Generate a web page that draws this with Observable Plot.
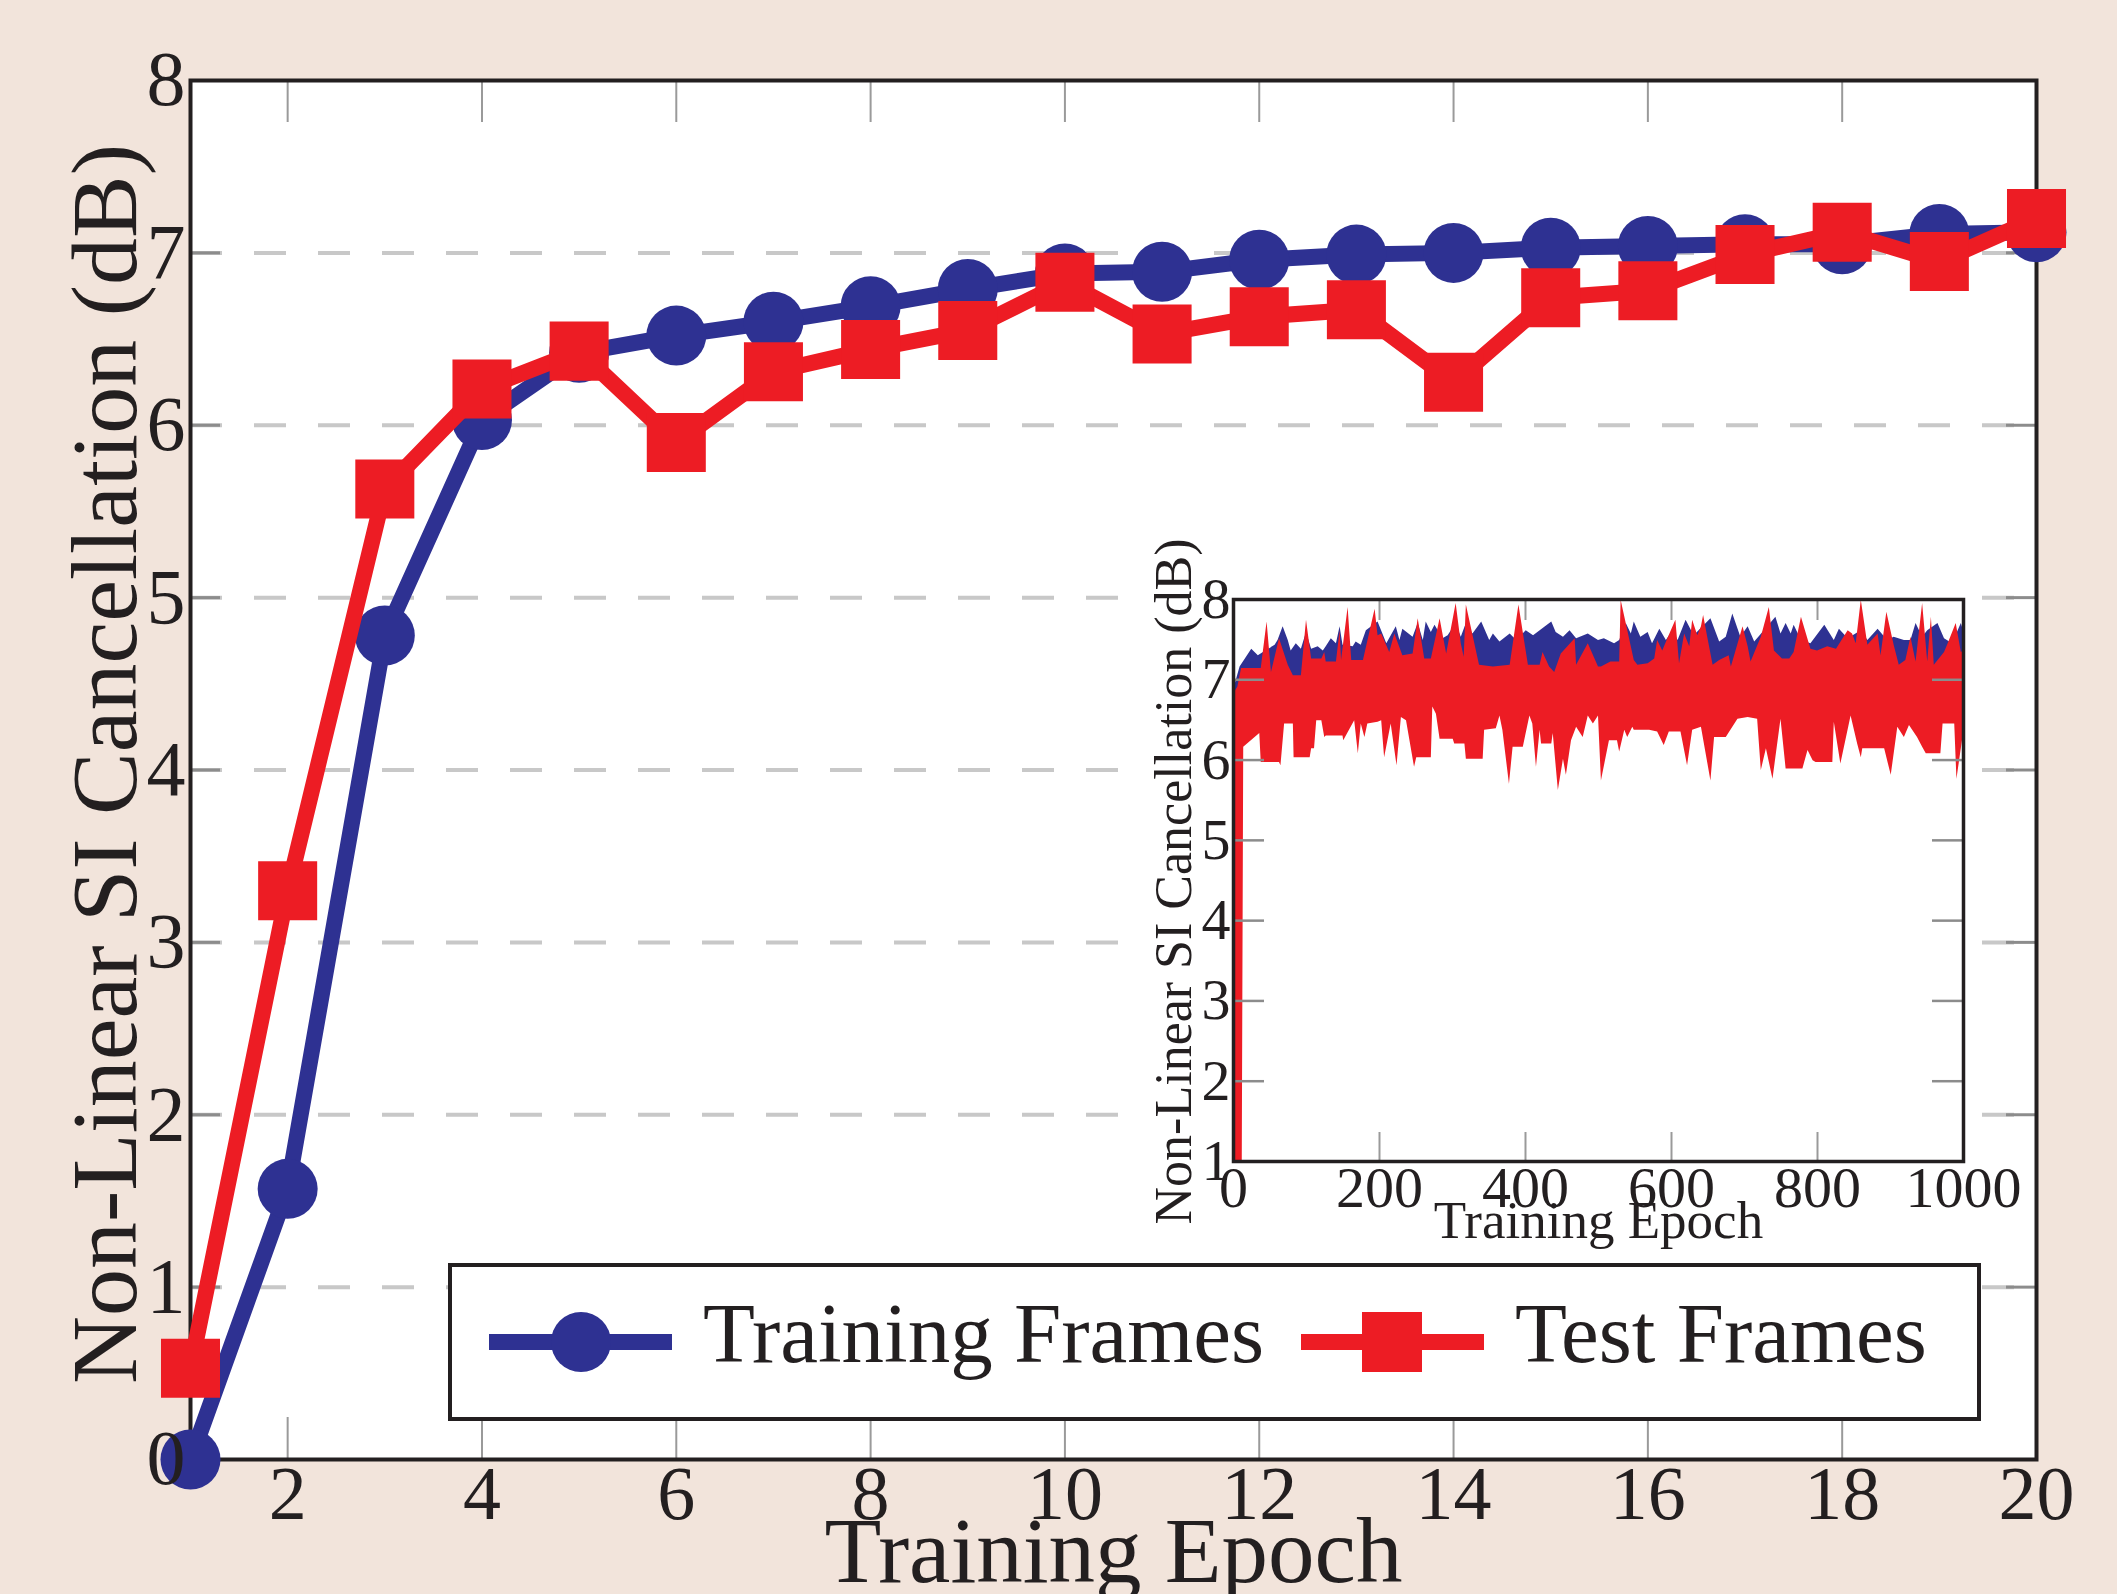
<!DOCTYPE html>
<html><head><meta charset="utf-8">
<script src="https://cdn.jsdelivr.net/npm/d3@7"></script>
<script src="https://cdn.jsdelivr.net/npm/@observablehq/plot@0.6"></script>
<style>
html,body{margin:0;padding:0;overflow:hidden;background:#f2e4db;}
#wrap{position:relative;width:2117px;height:1594px;}
#main{position:absolute;left:0;top:0;}
#inset{position:absolute;left:1134px;top:530px;}
#legend{position:absolute;left:448px;top:1263px;}
svg{overflow:visible}
</style></head><body><div id="wrap"><div id="main"></div><div id="inset"></div><div id="legend"></div></div>
<script>
// ---------- data ----------
const epochs = [1,2,3,4,5,6,7,8,9,10,11,12,13,14,15,16,17,18,19,20];
const trainingFrames = [0, 1.57, 4.78, 6.03, 6.42, 6.52, 6.60, 6.69, 6.79, 6.88, 6.89, 6.96, 6.99, 7.00, 7.03, 7.04, 7.05, 7.05, 7.11, 7.12];
const testFrames = [0.53, 3.30, 5.63, 6.21, 6.43, 5.90, 6.31, 6.44, 6.55, 6.83, 6.53, 6.63, 6.67, 6.25, 6.74, 6.78, 6.99, 7.12, 6.95, 7.20];
const xTickLabels = [2,4,6,8,10,12,14,16,18,20];
const yTickLabels = [0,1,2,3,4,5,6,7,8];
const gridValues = [1,2,3,4,5,6,7];
const innerXTicks = [2,4,6,8,10,12,14,16,18];

// inset (1000 epochs): upper edge of training trace, upper and lower edges of test trace  [epoch, dB]
const insetTrainTop = [[0,6.87],[9,7.16],[25,7.38],[34,7.30],[41,7.34],[57,7.43],[61,7.49],[68,7.66],[75,7.49],[79,7.36],[86,7.45],[93,7.38],[100,7.59],[107,7.38],[116,7.41],[123,7.36],[127,7.41],[134,7.51],[141,7.45],[146,7.66],[150,7.43],[164,7.41],[168,7.47],[175,7.43],[182,7.61],[198,7.72],[210,7.45],[223,7.66],[228,7.49],[232,7.63],[246,7.53],[253,7.70],[260,7.49],[264,7.72],[271,7.59],[276,7.68],[287,7.51],[294,7.55],[305,7.70],[312,7.53],[319,7.70],[328,7.57],[340,7.72],[351,7.49],[356,7.57],[365,7.47],[379,7.57],[388,7.49],[401,7.61],[411,7.55],[436,7.72],[442,7.59],[452,7.53],[461,7.61],[470,7.51],[486,7.57],[500,7.49],[508,7.51],[522,7.45],[529,7.49],[538,7.70],[545,7.57],[549,7.72],[558,7.53],[568,7.59],[574,7.45],[584,7.63],[593,7.49],[602,7.61],[609,7.49],[620,7.74],[631,7.55],[654,7.76],[666,7.47],[675,7.53],[684,7.82],[695,7.53],[705,7.66],[714,7.47],[732,7.66],[743,7.78],[750,7.57],[757,7.70],[764,7.57],[768,7.68],[778,7.49],[791,7.45],[810,7.68],[823,7.49],[830,7.63],[842,7.51],[860,7.61],[869,7.49],[883,7.63],[896,7.49],[905,7.53],[919,7.49],[928,7.49],[935,7.70],[944,7.53],[951,7.61],[965,7.70],[974,7.51],[985,7.45],[997,7.70],[1000,7.61]];
const insetTestTop = [[0,6.82],[6,6.91],[11,7.14],[38,7.14],[46,7.72],[52,7.09],[63,7.51],[75,7.18],[82,7.05],[93,7.05],[100,7.74],[107,7.26],[121,7.26],[125,7.34],[127,7.22],[141,7.22],[146,7.61],[148,7.24],[157,7.90],[162,7.24],[178,7.24],[194,7.88],[198,7.55],[203,7.57],[214,7.34],[221,7.57],[232,7.30],[246,7.32],[253,7.76],[262,7.26],[271,7.26],[283,7.76],[292,7.32],[305,7.95],[312,7.45],[316,7.28],[319,7.93],[337,7.18],[356,7.16],[379,7.18],[391,7.93],[404,7.18],[420,7.18],[424,7.34],[433,7.16],[440,7.09],[449,7.32],[468,7.51],[470,7.18],[486,7.45],[500,7.16],[504,7.16],[517,7.22],[529,7.22],[531,7.99],[549,7.24],[554,7.18],[568,7.20],[577,7.26],[581,7.49],[588,7.36],[595,7.51],[606,7.74],[611,7.20],[618,7.57],[625,7.41],[629,7.74],[636,7.55],[641,7.66],[644,7.80],[650,7.51],[657,7.18],[666,7.24],[679,7.30],[682,7.16],[698,7.66],[705,7.41],[709,7.22],[723,7.53],[734,7.90],[741,7.36],[752,7.26],[762,7.26],[768,7.34],[778,7.78],[791,7.38],[800,7.36],[814,7.41],[826,7.38],[842,7.61],[848,7.57],[853,7.45],[860,7.99],[869,7.43],[883,7.57],[887,7.30],[895,7.84],[905,7.43],[912,7.18],[921,7.24],[928,7.53],[935,7.22],[944,7.95],[951,7.22],[956,7.78],[960,7.18],[974,7.34],[979,7.45],[990,7.70],[997,7.34],[1000,7.36]];
const insetTestLow = [[0,1],[12,1],[14,6.16],[36,6.33],[38,5.97],[63,5.97],[65,5.93],[70,6.45],[82,6.45],[83,6.03],[105,6.03],[107,6.14],[111,6.14],[114,6.49],[121,6.49],[125,6.28],[127,6.30],[150,6.30],[151,6.24],[166,6.49],[171,6.08],[175,6.45],[180,6.28],[184,6.45],[198,6.47],[203,6.49],[207,6.03],[216,6.45],[224,5.93],[230,6.53],[237,6.49],[248,5.91],[251,6.03],[271,6.03],[273,6.66],[278,6.57],[283,6.26],[301,6.26],[303,6.20],[317,6.20],[319,6.01],[342,6.01],[344,6.37],[360,6.39],[365,6.55],[369,6.37],[378,5.70],[383,6.16],[397,6.16],[406,6.55],[410,6.45],[415,5.91],[420,6.37],[422,6.20],[436,6.20],[438,6.33],[445,5.62],[452,6.01],[456,5.81],[463,6.24],[470,6.41],[479,6.28],[486,6.55],[493,6.45],[500,6.55],[504,5.74],[515,6.24],[526,6.24],[529,6.10],[536,6.37],[540,6.28],[547,6.41],[549,6.37],[570,6.37],[581,6.35],[590,6.18],[597,6.35],[613,6.35],[622,5.93],[629,6.37],[641,6.41],[654,5.74],[659,6.28],[675,6.28],[691,6.51],[705,6.53],[718,6.51],[723,5.87],[730,6.14],[739,5.76],[750,6.51],[757,5.89],[780,5.89],[787,6.12],[794,5.99],[798,5.97],[821,5.97],[823,6.47],[832,5.95],[846,6.55],[855,6.20],[860,6.03],[862,6.14],[892,6.14],[901,5.81],[910,6.41],[919,6.28],[926,6.43],[937,6.28],[944,6.16],[949,6.08],[969,6.08],[972,6.45],[988,6.45],[991,5.76],[1000,6.33]];
const insetXTickLabels = [0,200,400,600,800,1000];
const insetYTickLabels = [1,2,3,4,5,6,7,8];
const insetInnerX = [200,400,600,800];
const insetInnerY = [2,3,4,5,6,7];

// ---------- styles ----------
const BLUE = "#2e3192", RED = "#ed1c24", INK = "#231f20";
const FONT = "Liberation Serif";
const plain = d => String(d);

const train = epochs.map((e,i) => ({epoch: e, v: trainingFrames[i]}));
const test = epochs.map((e,i) => ({epoch: e, v: testFrames[i]}));

// ---------- main chart ----------
const W = 2117, H = 1594, mL = 190, mR = 81, mT = 80, mB = 135;
const pW = W - mL - mR, pH = H - mT - mB;
const main = Plot.plot({
  width: W, height: H, marginLeft: mL, marginRight: mR, marginTop: mT, marginBottom: mB,
  style: {background: "transparent", fontFamily: FONT, color: INK, overflow: "visible"},
  x: {domain: [1, 20]},
  y: {domain: [0, 8]},
  marks: [
    Plot.frame({fill: "white"}),
    Plot.ruleY(gridValues, {stroke: "#c8c8c8", strokeWidth: 4, strokeDasharray: "32,32"}),
    Plot.tickY(gridValues, {y: d => d, stroke: "#8c8c8c", strokeWidth: 3, insetRight: pW - 30}),
    Plot.tickY(gridValues, {y: d => d, stroke: "#8c8c8c", strokeWidth: 3, insetLeft: pW - 30}),
    Plot.tickX(innerXTicks, {x: d => d, stroke: "#9a9a9a", strokeWidth: 2, insetBottom: pH - 42}),
    Plot.tickX(innerXTicks, {x: d => d, stroke: "#9a9a9a", strokeWidth: 2, insetTop: pH - 42}),
    Plot.frame({stroke: INK, strokeWidth: 4}),
    Plot.line(train, {x: "epoch", y: "v", stroke: BLUE, strokeWidth: 16}),
    Plot.dot(train, {x: "epoch", y: "v", r: 30, fill: BLUE}),
    Plot.line(test, {x: "epoch", y: "v", stroke: RED, strokeWidth: 16}),
    Plot.dot(test, {x: "epoch", y: "v", r: 33.3, symbol: "square", fill: RED}),
    Plot.axisX(xTickLabels, {tickSize: 0, tickPadding: 6, fontSize: 76, label: null, tickFormat: plain}),
    Plot.axisY(yTickLabels, {tickSize: 0, tickPadding: 5, fontSize: 78, label: null, tickFormat: plain}),
    Plot.text(["Training Epoch"], {text: d => d, frameAnchor: "bottom", textAnchor: "middle", dy: 122, lineAnchor: "bottom", fontSize: 93, fill: INK}),
    Plot.text(["Non-Linear SI Cancellation (dB)"], {text: d => d, frameAnchor: "left", textAnchor: "middle", rotate: -90, dx: -55, dy: -6, lineAnchor: "bottom", fontSize: 94, fill: INK})
  ]
});
document.getElementById("main").appendChild(main);

// ---------- inset ----------
const iW = 837, iH = 715, iL = 99, iR = 8, iT = 69, iB = 84;
const ipW = iW - iL - iR, ipH = iH - iT - iB;
const toObj = a => a.map(([e, v]) => ({epoch: e, v}));
const inset = Plot.plot({
  width: iW, height: iH, marginLeft: iL, marginRight: iR, marginTop: iT, marginBottom: iB,
  style: {background: "white", fontFamily: FONT, color: INK, overflow: "visible"},
  x: {domain: [0, 1000]},
  y: {domain: [1, 8]},
  marks: [
    Plot.areaY(toObj(insetTrainTop), {x: "epoch", y: "v", fill: BLUE, clip: true}),
    Plot.areaY(toObj(insetTestTop), {x: "epoch", y: "v", fill: RED, clip: true}),
    Plot.areaY(toObj(insetTestLow), {x: "epoch", y: "v", fill: "white", clip: true}),
    Plot.tickX(insetInnerX, {x: d => d, stroke: "#9a9a9a", strokeWidth: 2, insetTop: ipH - 29}),
    Plot.tickX(insetInnerX, {x: d => d, stroke: "#9a9a9a", strokeWidth: 2, insetBottom: ipH - 21}),
    Plot.tickY(insetInnerY, {y: d => d, stroke: "#8c8c8c", strokeWidth: 2.5, insetLeft: ipW - 31}),
    Plot.tickY(insetInnerY, {y: d => d, stroke: "#8c8c8c", strokeWidth: 2.5, insetRight: ipW - 31}),
    Plot.frame({stroke: INK, strokeWidth: 3.5}),
    Plot.axisX(insetXTickLabels, {tickSize: 0, tickPadding: 4, fontSize: 58, label: null, tickFormat: plain}),
    Plot.axisY(insetYTickLabels, {tickSize: 0, tickPadding: 3, fontSize: 58, label: null, tickFormat: plain}),
    Plot.text(["Training Epoch"], {text: d => d, frameAnchor: "bottom", textAnchor: "middle", dy: 76, lineAnchor: "bottom", fontSize: 53, fill: INK}),
    Plot.text(["Non-Linear SI Cancellation (dB)"], {text: d => d, frameAnchor: "left", textAnchor: "middle", rotate: -90, dx: -43, dy: 1, lineAnchor: "bottom", fontSize: 52, fill: INK})
  ]
});
document.getElementById("inset").appendChild(inset);

// ---------- legend ----------
const series = [
  {name: "Training Frames", color: BLUE, symbol: "circle"},
  {name: "Test Frames", color: RED, symbol: "square"}
];
const lg = d3.select("#legend").append("svg").attr("width", 1533).attr("height", 158)
  .style("font-family", FONT);
lg.append("rect").attr("x", 2).attr("y", 2).attr("width", 1529).attr("height", 154)
  .attr("fill", "white").attr("stroke", INK).attr("stroke-width", 4);
const itemX = [41, 853];
series.forEach((s, i) => {
  const x0 = itemX[i];
  const g = lg.append("g");
  g.append("line").attr("x1", x0).attr("x2", x0 + 183).attr("y1", 79).attr("y2", 79)
    .attr("stroke", s.color).attr("stroke-width", 16);
  if (s.symbol === "circle") g.append("circle").attr("cx", x0 + 92).attr("cy", 79).attr("r", 30).attr("fill", s.color);
  else g.append("rect").attr("x", x0 + 61).attr("y", 49).attr("width", 60).attr("height", 60).attr("fill", s.color);
  g.append("text").attr("x", x0 + 214).attr("y", 99).attr("font-size", 85).attr("fill", INK).text(s.name);
});
</script>
</body></html>
